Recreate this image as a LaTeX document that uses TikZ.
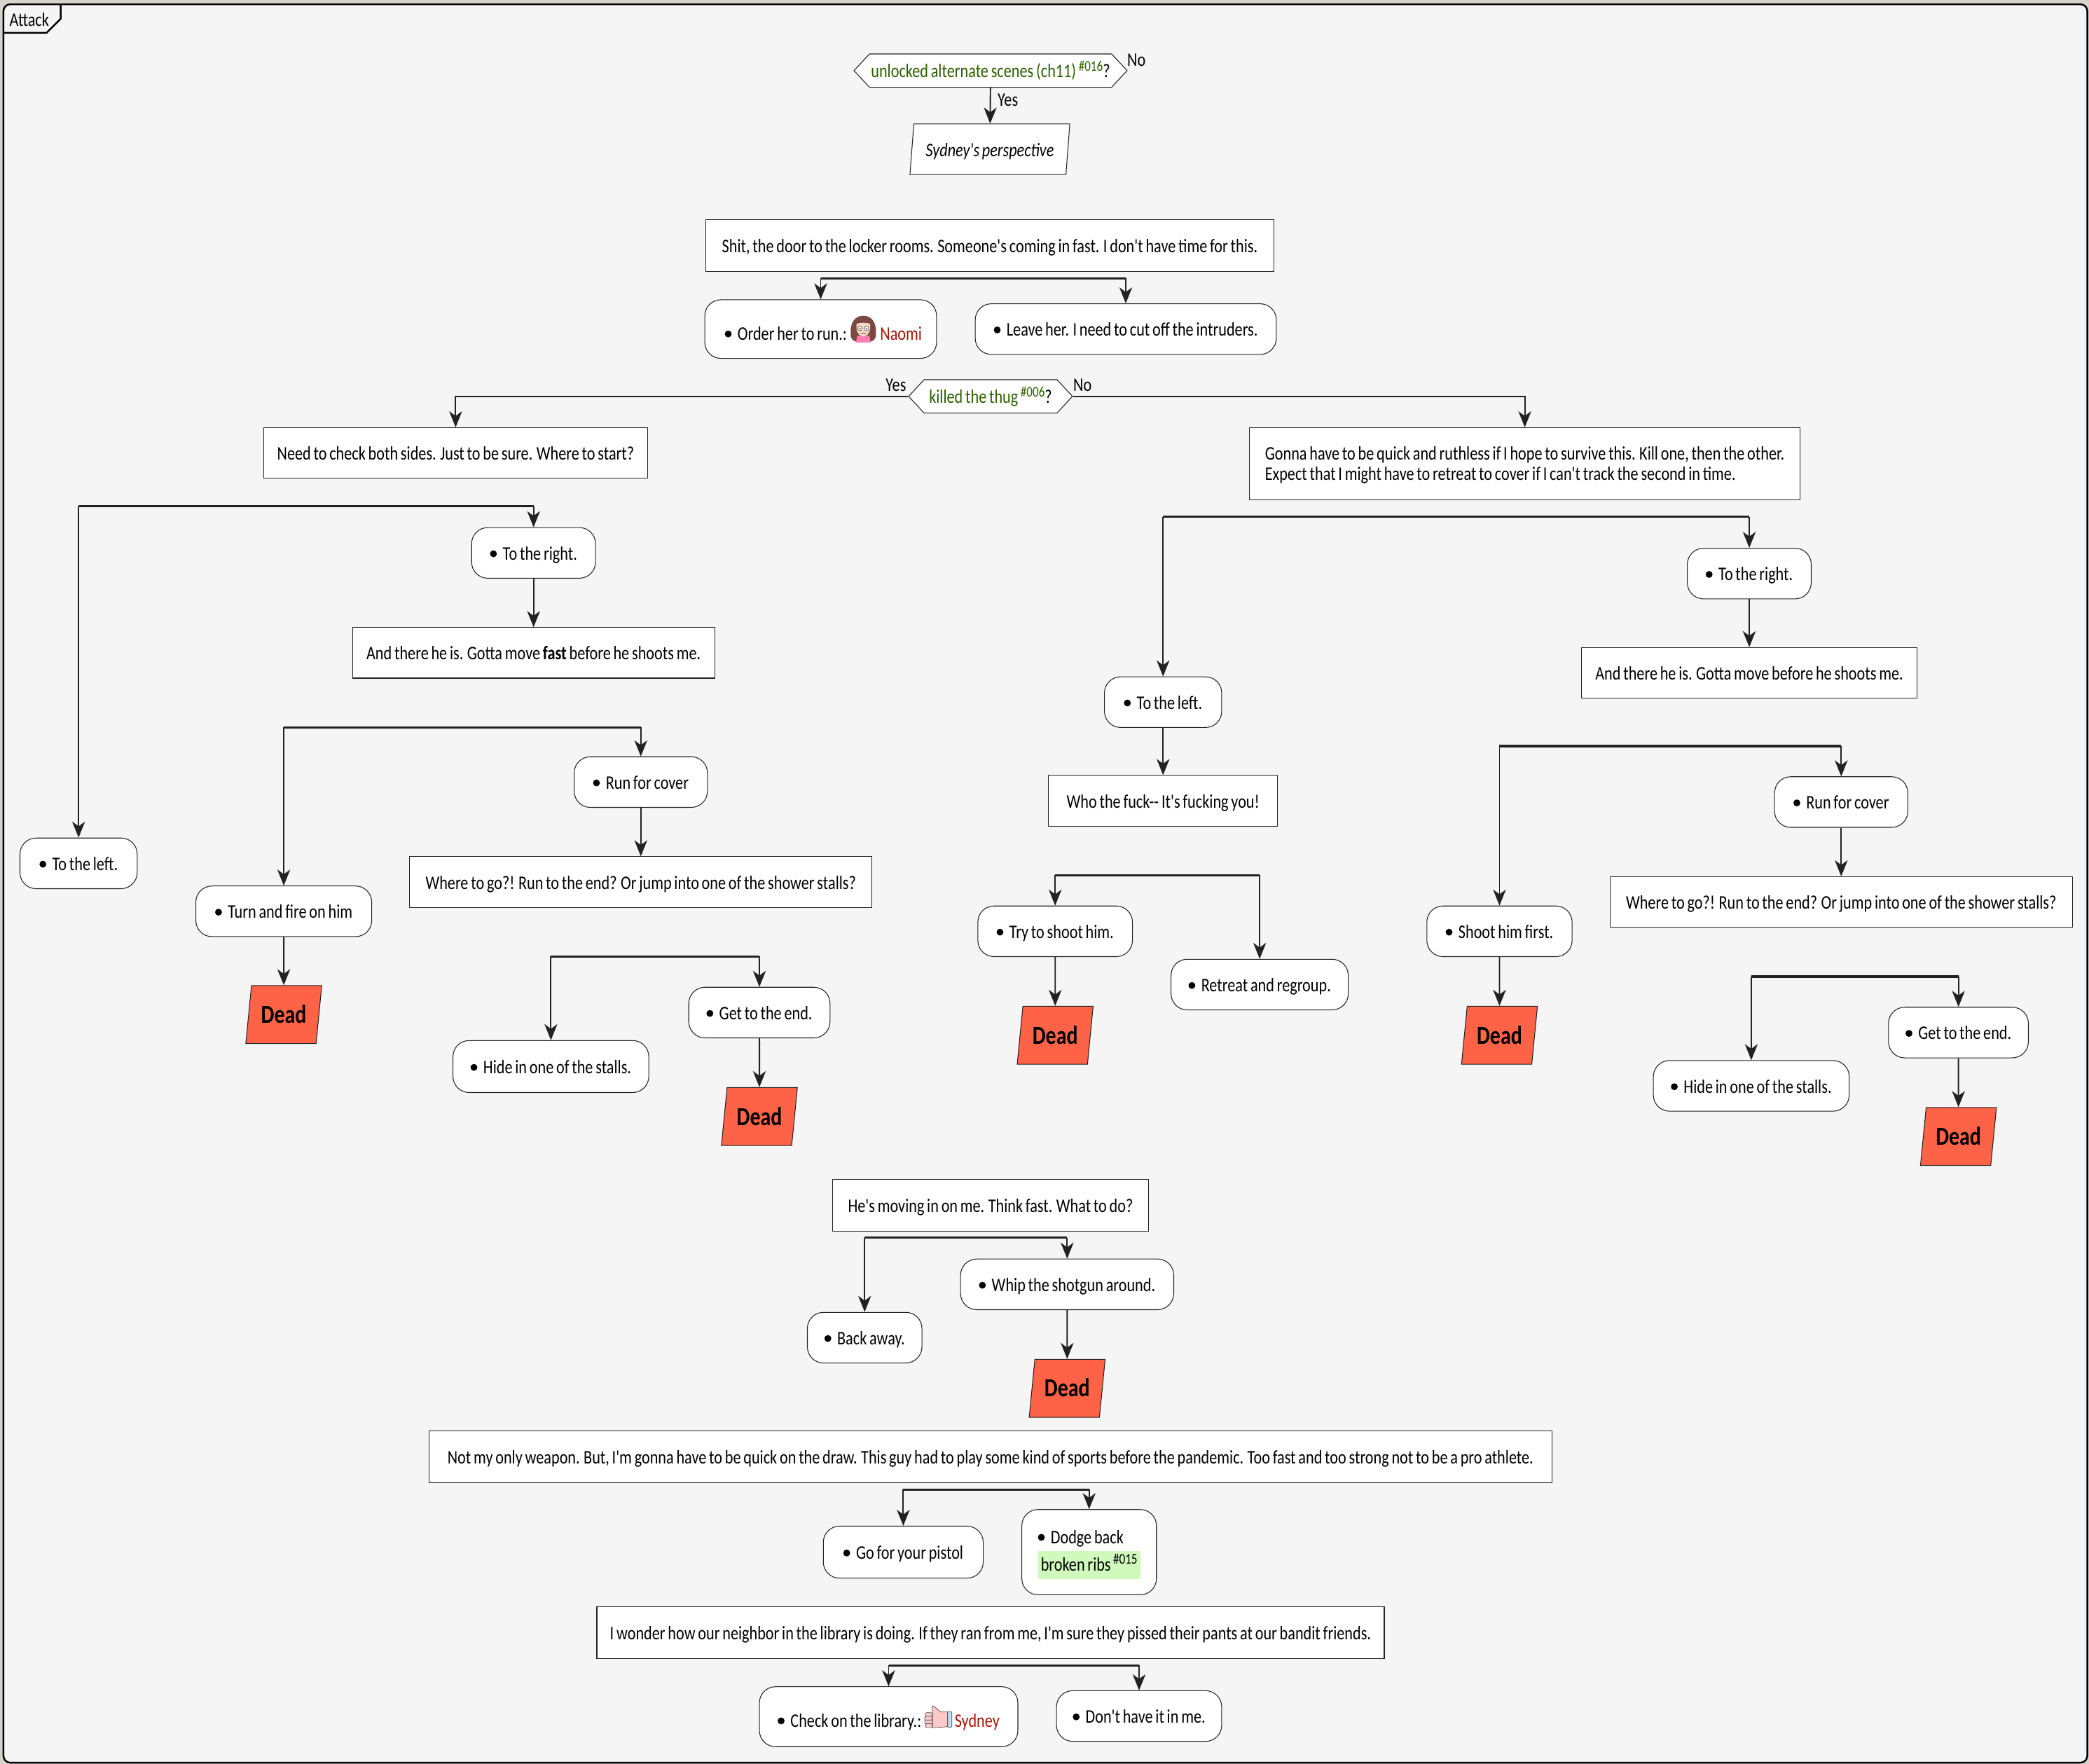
\documentclass[tikz,border=0pt]{standalone}
\usepackage{fontspec}
\setmainfont{Carlito}[FakeStretch=0.81,WordSpace=0.75,Ligatures=TeXOff]
\usetikzlibrary{arrows.meta,shapes.geometric,shapes.symbols}
\newlength{\unitpx}
\setlength{\unitpx}{0.038cm}
\definecolor{backgr}{HTML}{F5F5F5}
\definecolor{outside}{HTML}{D8D2CC}
\definecolor{deadred}{HTML}{FF6347}
\definecolor{condgreen}{HTML}{2D5F00}
\definecolor{charred}{HTML}{A91400}
\definecolor{ribgreen}{HTML}{D0F9BC}
\definecolor{edgeline}{HTML}{222222}
\definecolor{hairbrown}{HTML}{7A4A42}
\definecolor{skin}{HTML}{FBD9C5}
\definecolor{shirtpink}{HTML}{FF7EB6}
\definecolor{thumbpink}{HTML}{FFC9C9}
\definecolor{cuffblue}{HTML}{BBDDF5}
\tikzset{
  every node/.style={font=\fontsize{15.6pt}{16.4pt}\selectfont, inner sep=0pt},
  plainbox/.style 2 args={draw=edgeline, fill=white, line width=0.6pt, minimum width=#1\unitpx, minimum height=#2\unitpx},
  scenebox/.style 2 args={plainbox={#1}{#2}, text height=11.4pt, text depth=0pt},
  choicebox/.style 2 args={scenebox={#1}{#2}, rounded corners=0.46cm},
  condbox/.style 2 args={scenebox={#1}{#2}, signal, signal to=west and east, signal pointer angle=94},
  slantbox/.style 2 args={scenebox={#1}{#2}, trapezium, trapezium left angle=77, trapezium right angle=103, trapezium stretches=true},
  deadbox/.style={slantbox={57}{43.5}, fill=deadred, font=\fontsize{21pt}{24pt}\selectfont\bfseries, text height=14pt},
  flow/.style={-{Stealth[length=13pt,width=10.4pt,inset=3.8pt]}, draw=edgeline, line width=1.1pt},
  fork/.style={draw=edgeline, line width=1.8pt},
  iconline/.style={draw=black!70, line width=0.4pt},
}
\newcommand{\dotitem}{\tikz[baseline=-5pt]\fill (0,0) circle[radius=2.8pt];\hspace{4.8pt}}
\newcommand{\refno}[1]{\raisebox{5.5pt}{\fontsize{12pt}{12pt}\selectfont\,#1}}
\begin{document}
\begin{tikzpicture}[x=\unitpx, y=-\unitpx]
  \useasboundingbox (0,0) rectangle (1568,1324);
  \fill[outside] (0,0) rectangle (1568,1324);
  \draw[fill=backgr, draw=black, line width=1.4pt, rounded corners=5.5pt] (2.6,3.2) rectangle (1566.7,1323);
  \draw[black, line width=1.4pt] (45.6,3.2) -- (45.6,14) -- (35,24.6) -- (2.6,24.6);
  \node (attack) at (22,14.5) {Attack};

  \node[condbox={205}{25}] (unlocked) at (743.5,53) {\textcolor{condgreen}{unlocked alternate scenes (ch11)\refno{\#016}}?};
  \node[slantbox={120}{38}, font=\fontsize{15.6pt}{18pt}\selectfont\itshape] (sydney) at (743,112) {Sydney's perspective};
  \node (no1) at (853,45) {No};
  \node (yes1) at (756.5,75) {Yes};
  \draw[flow] (unlocked) -- (sydney);

  \node[scenebox={426}{39}] (door) at (743,184.5) {Shit, the door to the locker rooms. Someone's coming in fast. I don't have time for this.};
  \coordinate (fork1) at (743,209);
  \node[choicebox={174}{44}] (order) at (616,247) {\raisebox{-3\unitpx}{\hspace*{4\unitpx}\dotitem Order her to run.:\hspace{25\unitpx}\textcolor{charred}{Naomi}}};
  \node[choicebox={226}{38}] (leave) at (845,247) {\dotitem Leave her. I need to cut off the intruders.};
  \draw[fork] (order |- fork1) -- (leave |- fork1);
  \draw[flow] (order |- fork1) -- (order);
  \draw[flow] (leave |- fork1) -- (leave);
  \begin{scope}[shift={(648,247)}]
    \fill[hairbrown] (0,-10) .. controls (7,-10) and (10,-4) .. (9.5,4) .. controls (9.5,8) and (7,9) .. (5,9.5) -- (-5,9.5) .. controls (-7,9) and (-9.5,8) .. (-9.5,4) .. controls (-10,-4) and (-7,-10) .. (0,-10);
    \fill[shirtpink] (-5.5,10) -- (-4.5,5) -- (4.5,5) -- (5.5,10) -- cycle;
    \fill[skin] (-5,-4) .. controls (-2,-5) and (2,-5) .. (5,-4) .. controls (6,2) and (3,5.5) .. (0,5.5) .. controls (-3,5.5) and (-6,2) .. (-5,-4);
    \draw[iconline, fill=white] (-2.5,-0.5) circle[radius=1.7] (2.5,-0.5) circle[radius=1.7];
    \fill (-2.5,-0.5) circle[radius=0.5] (2.5,-0.5) circle[radius=0.5];
    \draw[iconline] (-2,3) -- (-1,3.6) -- (0,3) -- (1,3.6) -- (2,3);
  \end{scope}

  \node[condbox={123}{25}] (thug) at (743.5,297.5) {\textcolor{condgreen}{killed the thug\refno{\#006}}?};
  \node (yes2) at (672.5,289) {Yes};
  \node (no2) at (812.5,289) {No};
  \node[scenebox={288}{38}] (sides) at (342,340) {Need to check both sides. Just to be sure. Where to start?};
  \node[plainbox={413}{54}, align=left] (quick) at (1144.5,348) {\rule{0pt}{13.5pt}Gonna have to be quick and ruthless if I hope to survive this. Kill one, then the other.\\Expect that I might have to retreat to cover if I can't track the second in time.};
  \draw[flow] (thug.west) -| (sides);
  \draw[flow] (thug.east) -| (quick);

  \coordinate (fork2) at (230,380);
  \node[choicebox={93}{38}] (rightA) at (400.5,415) {\dotitem To the right.};
  \node[scenebox={272}{38}] (thereA) at (400.5,490) {And there he is. Gotta move \textbf{fast} before he shoots me.};
  \node[choicebox={88}{38}] (leftA) at (59,648) {\dotitem To the left.};
  \draw[fork] (leftA |- fork2) -- (rightA |- fork2);
  \draw[flow] (leftA |- fork2) -- (leftA);
  \draw[flow] (rightA |- fork2) -- (rightA);
  \draw[flow] (rightA) -- (thereA);

  \coordinate (fork3) at (350,546);
  \node[choicebox={100}{38}] (coverA) at (481,587) {\dotitem Run for cover};
  \node[scenebox={347}{38}] (whereA) at (481,662) {Where to go?! Run to the end? Or jump into one of the shower stalls?};
  \node[choicebox={132}{38}] (fire) at (213,684) {\dotitem Turn and fire on him};
  \node[deadbox] (deadA) at (213,761.5) {Dead};
  \draw[fork] (fire |- fork3) -- (coverA |- fork3);
  \draw[flow] (fire |- fork3) -- (fire);
  \draw[flow] (coverA |- fork3) -- (coverA);
  \draw[flow] (coverA) -- (whereA);
  \draw[flow] (fire) -- (deadA);

  \coordinate (fork4) at (490,718);
  \node[choicebox={106}{38}] (endA) at (570,760) {\dotitem Get to the end.};
  \node[choicebox={147}{39}] (stallsA) at (413.5,800.5) {\dotitem Hide in one of the stalls.};
  \node[deadbox] (deadB) at (570,838) {Dead};
  \draw[fork] (stallsA |- fork4) -- (endA |- fork4);
  \draw[flow] (stallsA |- fork4) -- (stallsA);
  \draw[flow] (endA |- fork4) -- (endA);
  \draw[flow] (endA) -- (deadB);

  \coordinate (fork5) at (1090,388);
  \node[choicebox={93}{38}] (rightB) at (1313,430.5) {\dotitem To the right.};
  \node[scenebox={252}{38}] (thereB) at (1313,505) {And there he is. Gotta move before he shoots me.};
  \node[choicebox={88}{38}] (leftB) at (873,527) {\dotitem To the left.};
  \node[scenebox={172}{38}] (fucking) at (873,601) {Who the fuck-- It's fucking you!};
  \draw[fork] (leftB |- fork5) -- (rightB |- fork5);
  \draw[flow] (leftB |- fork5) -- (leftB);
  \draw[flow] (rightB |- fork5) -- (rightB);
  \draw[flow] (rightB) -- (thereB);
  \draw[flow] (leftB) -- (fucking);

  \coordinate (fork6) at (870,657);
  \node[choicebox={116}{38}] (shootA) at (792,699) {\dotitem Try to shoot him.};
  \node[choicebox={133}{38}] (retreat) at (945.5,739) {\dotitem Retreat and regroup.};
  \node[deadbox] (deadC) at (792,777) {Dead};
  \draw[fork] (shootA |- fork6) -- (retreat |- fork6);
  \draw[flow] (shootA |- fork6) -- (shootA);
  \draw[flow] (retreat |- fork6) -- (retreat);
  \draw[flow] (shootA) -- (deadC);

  \coordinate (fork7) at (1250,560);
  \node[choicebox={100}{38}] (coverB) at (1382,602) {\dotitem Run for cover};
  \node[scenebox={347}{38}] (whereB) at (1382,677) {Where to go?! Run to the end? Or jump into one of the shower stalls?};
  \node[choicebox={109}{38}] (shootB) at (1125.5,699) {\dotitem Shoot him first.};
  \node[deadbox] (deadD) at (1125.5,777) {Dead};
  \draw[fork] (shootB |- fork7) -- (coverB |- fork7);
  \draw[flow] (shootB |- fork7) -- (shootB);
  \draw[flow] (coverB |- fork7) -- (coverB);
  \draw[flow] (coverB) -- (whereB);
  \draw[flow] (shootB) -- (deadD);

  \coordinate (fork8) at (1390,733);
  \node[choicebox={105}{38}] (endB) at (1470,775) {\dotitem Get to the end.};
  \node[choicebox={147}{38}] (stallsB) at (1314.5,815) {\dotitem Hide in one of the stalls.};
  \node[deadbox] (deadE) at (1470,853) {Dead};
  \draw[fork] (stallsB |- fork8) -- (endB |- fork8);
  \draw[flow] (stallsB |- fork8) -- (stallsB);
  \draw[flow] (endB |- fork8) -- (endB);
  \draw[flow] (endB) -- (deadE);

  \node[scenebox={237}{39}] (moving) at (743.5,904.5) {He's moving in on me. Think fast. What to do?};
  \coordinate (fork9) at (743,929);
  \node[choicebox={160}{38}] (whip) at (801,964) {\dotitem Whip the shotgun around.};
  \node[choicebox={86}{38}] (back) at (649,1004) {\dotitem Back away.};
  \node[deadbox] (deadF) at (801,1042) {Dead};
  \draw[fork] (back |- fork9) -- (whip |- fork9);
  \draw[flow] (back |- fork9) -- (back);
  \draw[flow] (whip |- fork9) -- (whip);
  \draw[flow] (whip) -- (deadF);

  \node[scenebox={843}{39}] (weapon) at (743.5,1093.5) {Not my only weapon. But, I'm gonna have to be quick on the draw. This guy had to play some kind of sports before the pandemic. Too fast and too strong not to be a pro athlete.};
  \coordinate (fork10) at (743,1118);
  \node[choicebox={120}{39}] (pistol) at (678,1165) {\dotitem Go for your pistol};
  \node[plainbox={101}{64}, rounded corners=0.46cm, align=left] (dodge) at (817.5,1165) {\rule{0pt}{15pt}\dotitem Dodge back\\[2.5pt]\setlength{\fboxsep}{2.4pt}\colorbox{ribgreen}{\rule[-4.5pt]{0pt}{16pt}broken ribs\refno{\#015}}};
  \draw[fork] (pistol |- fork10) -- (dodge |- fork10);
  \draw[flow] (pistol |- fork10) -- (pistol);
  \draw[flow] (dodge |- fork10) -- (dodge);

  \node[scenebox={591}{39}] (wonder) at (743.5,1225.5) {I wonder how our neighbor in the library is doing. If they ran from me, I'm sure they pissed their pants at our bandit friends.};
  \coordinate (fork11) at (743,1250);
  \node[choicebox={194}{45}] (library) at (667,1288.5) {\raisebox{-2.5\unitpx}{\dotitem Check on the library.:\hspace{25\unitpx}\textcolor{charred}{Sydney}}};
  \node[choicebox={124}{38}] (nothave) at (855,1288) {\dotitem Don't have it in me.};
  \draw[fork] (library |- fork11) -- (nothave |- fork11);
  \draw[flow] (library |- fork11) -- (library);
  \draw[flow] (nothave |- fork11) -- (nothave);
  \begin{scope}[shift={(694,1285)}]
    \draw[iconline, fill=thumbpink] (6,0.6) -- (5.6,-3.6) .. controls (5.8,-5) and (7,-5) .. (7.6,-4) -- (12,0) -- (17.3,0) -- (17.3,11) -- (6,11.8) -- cycle;
    \draw[iconline, fill=thumbpink, rounded corners=1pt] (0.4,0.5) rectangle (6,3.2) (0,3.2) rectangle (6,6) (0,6) rectangle (6,8.8) (0.6,8.8) rectangle (6,11.6);
    \draw[iconline, fill=cuffblue, rounded corners=0.8pt] (17.3,-0.4) rectangle (20.5,11.5);
  \end{scope}
\end{tikzpicture}
\end{document}
